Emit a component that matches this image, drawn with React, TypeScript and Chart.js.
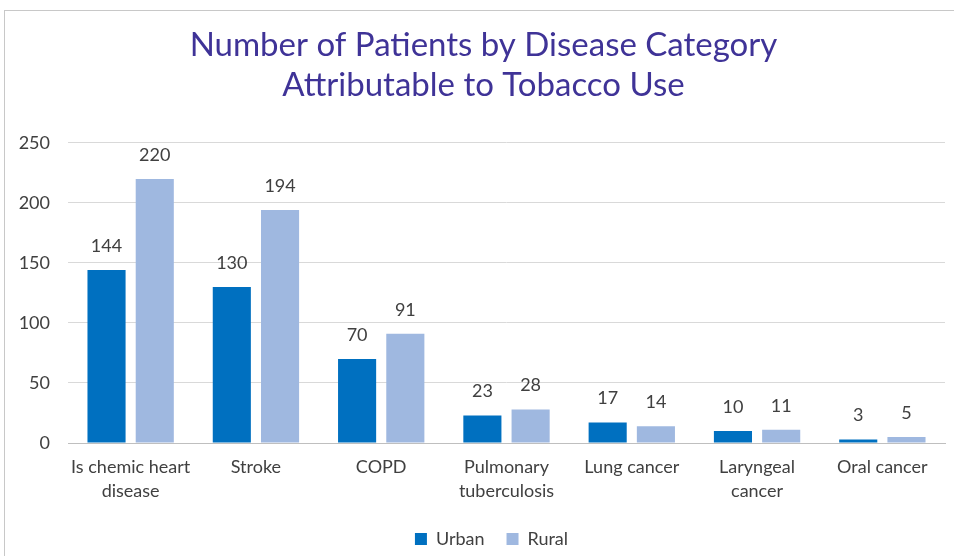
import React, { useEffect, useRef } from "react";
import { Chart, registerables } from "chart.js";

Chart.register(...registerables);

const categories: (string | string[])[] = [
  ["Is chemic heart", "disease"],
  "Stroke",
  "COPD",
  ["Pulmonary", "tuberculosis"],
  "Lung cancer",
  ["Laryngeal", "cancer"],
  "Oral cancer",
];
const urban = [144, 130, 70, 23, 17, 10, 3];
const rural = [220, 194, 91, 28, 14, 11, 5];
const yTicks = [0, 50, 100, 150, 200, 250];

const FONT = "Lato, 'Open Sans', sans-serif";
const TEXT = "#404040";

// Writes each bar's value above it
const valueLabels = {
  id: "valueLabels",
  afterDatasetsDraw(chart: any) {
    const ctx = chart.ctx;
    ctx.save();
    ctx.font = `18px ${FONT}`;
    ctx.fillStyle = TEXT;
    ctx.textAlign = "center";
    ctx.textBaseline = "middle";
    chart.data.datasets.forEach((ds: any, i: number) => {
      const meta = chart.getDatasetMeta(i);
      meta.data.forEach((bar: any, j: number) => {
        ctx.fillText(String(ds.data[j]), bar.x, bar.y - 24);
      });
    });
    ctx.restore();
  },
};

// Centres the title and legend on the outer frame rather than the canvas
const centreOnFrame = {
  id: "centreOnFrame",
  afterLayout(chart: any) {
    const shift = (box: any, dx: number) => {
      if (!box) return;
      box.left += dx;
      box.right += dx;
    };
    shift(chart.titleBlock, 11);
    shift(chart.legend, 19);
  },
};

export default function App() {
  const ref = useRef<HTMLCanvasElement>(null);

  useEffect(() => {
    document.body.style.margin = "0";
    const chart = new Chart(ref.current!, {
      type: "bar",
      data: {
        labels: categories,
        datasets: [
          { label: "Urban", data: urban, backgroundColor: "#0070C0" },
          { label: "Rural", data: rural, backgroundColor: "#9FB8E0" },
        ],
      },
      options: {
        animation: false,
        responsive: false,
        devicePixelRatio: 1,
        datasets: {
          bar: { categoryPercentage: 0.77, barPercentage: 0.79 },
        },
        layout: { padding: { left: 0, right: 9, top: 0, bottom: 4 } },
        plugins: {
          title: {
            display: true,
            text: ["Number of Patients by Disease Category", "Attributable to Tobacco Use"],
            color: "#3F3397",
            font: { family: FONT, size: 33, weight: "normal", lineHeight: 1.21 },
            padding: { top: 25, bottom: 38 },
          },
          legend: {
            position: "bottom",
            labels: {
              boxWidth: 12,
              boxHeight: 12,
              padding: 22,
              color: TEXT,
              font: { family: FONT, size: 18 },
            },
          },
          tooltip: { enabled: false },
        },
        scales: {
          x: {
            grid: { display: false, drawTicks: false },
            border: { display: true, color: "#BFBFBF" },
            ticks: {
              color: TEXT,
              font: { family: FONT, size: 18, lineHeight: 1.33 },
              padding: 12,
              maxRotation: 0,
              autoSkip: false,
            },
            afterFit(scale: any) {
              scale.height = 65;
            },
          },
          y: {
            min: 0,
            max: 250,
            afterBuildTicks(scale: any) {
              scale.ticks = yTicks.map((v) => ({ value: v }));
            },
            grid: { color: "#D9D9D9", drawTicks: false },
            border: { display: false },
            ticks: { color: TEXT, font: { family: FONT, size: 18 }, padding: 18 },
            afterFit(scale: any) {
              scale.width = 68;
            },
          },
        },
      },
      plugins: [valueLabels, centreOnFrame],
    });
    return () => chart.destroy();
  }, []);

  return (
    <div style={{ position: "relative", width: 954, height: 556, overflow: "hidden", background: "#fff" }}>
      <div
        style={{
          position: "absolute",
          left: 4,
          top: 10,
          width: 980,
          height: 580,
          border: "1px solid #C8C8C8",
        }}
      />
      <canvas ref={ref} width={954} height={562} style={{ position: "absolute", left: 0, top: 0 }} />
    </div>
  );
}
